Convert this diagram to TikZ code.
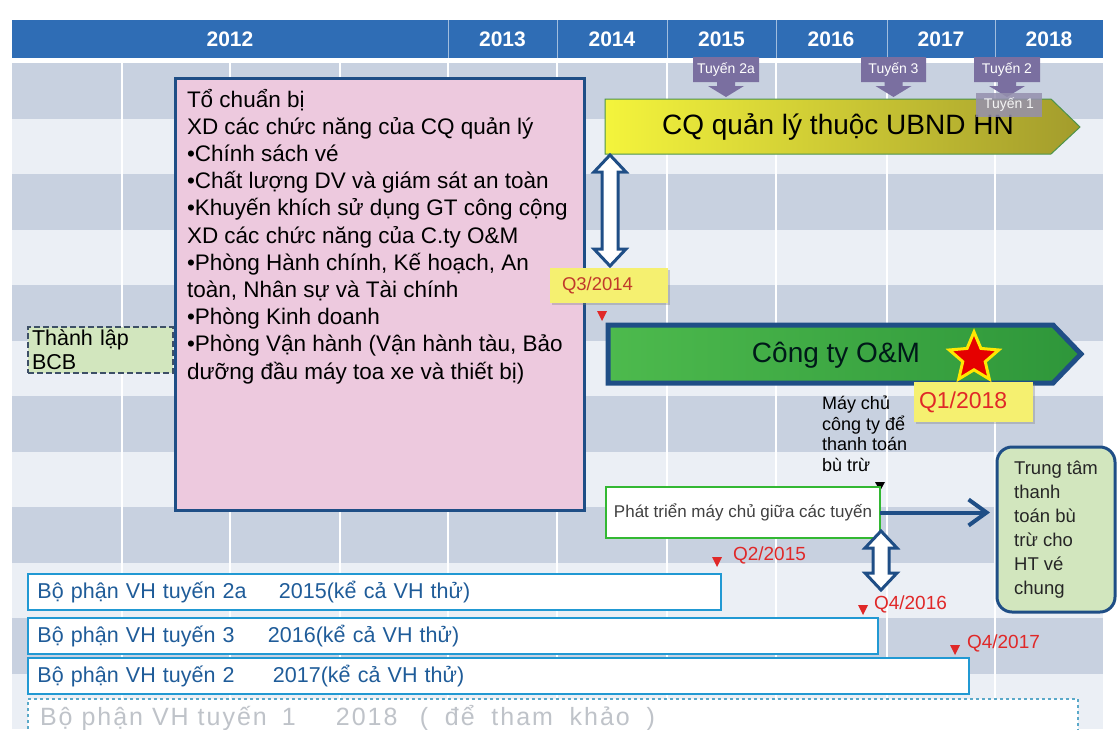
\documentclass[tikz,border=0pt]{standalone}
\usepackage{fontspec}
\setmainfont{Liberation Sans}
\usetikzlibrary{shapes.geometric,arrows.meta,shadows}
\definecolor{hdr}{HTML}{2F6DB5}
\definecolor{rowdark}{HTML}{C8D1E0}
\definecolor{rowlight}{HTML}{EBEFF5}
\definecolor{navy}{HTML}{1F4E86}
\definecolor{pinkbox}{HTML}{EDC9DE}
\definecolor{lgreen}{HTML}{D2E6BE}
\definecolor{tuy}{HTML}{7A6FA0}
\definecolor{tuylight}{HTML}{9590AE}
\definecolor{qyellow}{HTML}{F5F070}
\definecolor{qred}{HTML}{E02828}
\definecolor{qbrown}{HTML}{C0392B}
\definecolor{barblue}{HTML}{2199D3}
\definecolor{bartext}{HTML}{1F5C99}
\definecolor{yelA}{HTML}{F4F43C}
\definecolor{yelB}{HTML}{A39C2C}
\definecolor{grnA}{HTML}{4DBA4D}
\definecolor{grnB}{HTML}{2E963A}
\definecolor{dashgray}{HTML}{3D4F66}
\definecolor{dashblue}{HTML}{5AA9C9}
\definecolor{ghost}{HTML}{BFC3C9}
\tikzset{
  hdrtext/.style={text=white, font=\bfseries\fontsize{21}{24}\selectfont},
  tuytext/.style={text=white, font=\fontsize{14}{16}\selectfont},
  qlabel/.style={fill=qyellow, drop shadow={shadow xshift=2pt, shadow yshift=-2pt, opacity=0.35}, anchor=north west, align=left},
  qtext/.style={text=qred, font=\fontsize{19}{21}\selectfont, anchor=west},
  barbox/.style={draw=barblue, line width=2.5, fill=white, text=bartext, font=\fontsize{21.5}{24}\selectfont, anchor=north west, minimum height=36, inner xsep=9.5, align=left},
  dblarr/.style={draw=navy, line width=3, fill=white, line join=miter},
  redtri/.style={fill=qred},
}
\newcommand{\vdarrow}[3]{%
  \path[dblarr] ({#1-8},{#2+17}) -- ({#1-16},{#2+17}) -- (#1,#2) -- ({#1+16},{#2+17}) -- ({#1+8},{#2+17})
   -- ({#1+8},{#3-17}) -- ({#1+16},{#3-17}) -- (#1,#3) -- ({#1-16},{#3-17}) -- ({#1-8},{#3-17}) -- cycle;}
\newcommand{\redmark}[2]{\fill[redtri] ({#1-5},#2) -- ({#1+5},#2) -- (#1,{#2+10}) -- cycle;}
\newcommand{\tuyencallout}[4]{%
  \pgfmathsetmacro{\tcx}{(#2+#3)/2}%
  \fill[tuy] (#2,57) -- (#3,57) -- (#3,82) -- ({\tcx+9},82) -- ({\tcx+9},86) -- ({\tcx+18},86) -- (\tcx,97)
   -- ({\tcx-18},86) -- ({\tcx-9},86) -- ({\tcx-9},82) -- (#2,82) -- cycle;
  \node[tuytext] (#1) at (\tcx,69.5) {#4};}
\begin{document}
\begin{tikzpicture}[x=1pt,y=-1pt,every node/.style={inner sep=0pt,outer sep=0pt}]
\useasboundingbox (0,0) rectangle (1120,729);
\fill[white] (0,0) rectangle (1120,729);
% grid rows
\foreach \i in {0,2,4,6,8,10} \fill[rowdark] (12,{63+55.5*\i}) rectangle (1103,{63+55.5*(\i+1)});
\foreach \i in {1,3,5,7,9,11} \fill[rowlight] (12,{63+55.5*\i}) rectangle (1103,{63+55.5*(\i+1)});
\foreach \x in {122,230,340,448,557,667,776,887,995} \draw[white,line width=2] (\x,63) -- (\x,729);
% header
\fill[hdr] (12,20) rectangle (1103,58);
\foreach \x in {448,557,667,776,887,995} \draw[white!55!hdr,line width=1] (\x,20) -- (\x,58);
\node[hdrtext] (h2012) at (230,39) {2012};
\node[hdrtext] (h2013) at (502.5,39) {2013};
\node[hdrtext] (h2014) at (612,39) {2014};
\node[hdrtext] (h2015) at (721.5,39) {2015};
\node[hdrtext] (h2016) at (831,39) {2016};
\node[hdrtext] (h2017) at (941,39) {2017};
\node[hdrtext] (h2018) at (1049,39) {2018};
% preparation box
\node[draw=navy,line width=3,fill=pinkbox,minimum width=409,minimum height=432,anchor=north west] (prep) at (175,78) {};
\node[anchor=north west,align=left,font=\fontsize{22.5}{27.2}\selectfont] (preptext) at (187,89) {%
Tổ chuẩn bị\\
XD các chức năng của CQ quản lý\\
•Chính sách vé\\
•Chất lượng DV và giám sát an toàn\\
•Khuyến khích sử dụng GT công cộng\\
XD các chức năng của C.ty O\&M\\
•Phòng Hành chính, Kế hoạch, An\\
toàn, Nhân sự và Tài chính\\
•Phòng Kinh doanh\\
•Phòng Vận hành (Vận hành tàu, Bảo\\
dưỡng đầu máy toa xe và thiết bị)};
% BCB
\node[draw=dashgray,dash pattern=on 6pt off 3pt,line width=2,fill=lgreen,minimum width=145,minimum height=46,
  anchor=north west,inner xsep=4,text width=137,align=left,font=\fontsize{21.5}{24}\selectfont] (bcb) at (28,327) {Thành lập\\BCB};
% yellow arrow
\path[draw=green!40!black!70,line width=1,left color=yelA,right color=yelB]
  (605,99) -- (1051,99) -- (1080,127) -- (1051,154) -- (605,154) -- cycle;
\node[font=\fontsize{28}{30}\selectfont] (cq) at (838,127) {CQ quản lý thuộc UBND HN};
% tuyen callouts
\tuyencallout{t2a}{693}{759}{Tuyến 2a}
\tuyencallout{t3}{861}{926}{Tuyến 3}
\tuyencallout{t2}{974}{1040}{Tuyến 2}
\node[fill=tuylight,fill opacity=0.85,text opacity=1,text=white!92!gray,font=\fontsize{14}{16}\selectfont,
  minimum width=66,minimum height=24,anchor=north west] (t1) at (976,93) {Tuyến 1};
% double arrow 1
\vdarrow{610}{155}{266}
% Q3/2014
\node[qlabel,text=qbrown,font=\fontsize{18.5}{21}\selectfont,text width=94,inner xsep=12,minimum height=35] (q3) at (550,268) {Q3/2014};
\redmark{602}{311}
% green arrow
\path[draw=navy,line width=5,line join=miter,left color=grnA,right color=grnB]
  (608,325) -- (1053,325) -- (1081,354) -- (1053,383) -- (608,383) -- cycle;
\node[text=black!80!teal,font=\fontsize{28}{30}\selectfont] (om) at (836,355) {Công ty O\&M};
\node[star,star points=5,star point ratio=2.2,fill=red!90!black,draw=yellow!90!orange,line width=3,minimum size=52] (star) at (974,358) {};
% Q1/2018
\node[qlabel,text=qred,font=\fontsize{23}{26}\selectfont,text width=109,inner xsep=5,minimum height=40] (q1) at (914,382) {Q1/2018};
% server text
\node[anchor=north west,align=left,font=\fontsize{18}{20.5}\selectfont] (maychu) at (822,396) {Máy chủ\\công ty để\\thanh toán\\bù trừ};
\fill (875,482) -- (885,482) -- (880,491) -- cycle;
% development box
\node[draw=green!65!black!80,line width=2,fill=white,minimum width=274,minimum height=51,anchor=north west,
  text=black!75,font=\fontsize{17}{19}\selectfont] (phat) at (606,487) {Phát triển máy chủ giữa các tuyến};
% clearing centre
\node[draw=navy,line width=3,fill=lgreen,rounded corners=15,minimum width=118,minimum height=165,anchor=north west,
  align=left,text=black!85,font=\fontsize{18.5}{24}\selectfont] (trung) at (997,447) {Trung tâm\\thanh\\toán bù\\trừ cho\\HT vé\\chung};
\draw[navy,line width=4,-{Straight Barb[length=18pt,width=26pt]},shorten >=7pt] (phat.east) -- (phat.east -| trung.west);
% double arrow 2
\vdarrow{881}{531}{590}
% quarter marks
\redmark{717}{557}
\node[qtext] (q2) at (733,555) {Q2/2015};
\redmark{863}{605}
\node[qtext] (q4a) at (874,604) {Q4/2016};
\redmark{955}{645}
\node[qtext] (q4b) at (967,643) {Q4/2017};
% bars
\node[barbox,text width=674] (bar1) at (28,574) {\makebox[241.5pt][l]{Bộ phận VH tuyến 2a}2015(kể cả VH thử)};
\node[barbox,text width=831] (bar2) at (28,618) {\makebox[230.5pt][l]{Bộ phận VH tuyến 3}2016(kể cả VH thử)};
\node[barbox,text width=922] (bar3) at (28,658) {\makebox[235.5pt][l]{Bộ phận VH tuyến 2}2017(kể cả VH thử)};
% reference bar
\node[draw=dashblue,dashed,line width=1.5,fill=white,minimum width=1050,minimum height=45,anchor=north west] (bar4) at (28,699) {};
\node[anchor=west,text=ghost,font=\fontsize{25}{28}\selectfont\addfontfeatures{LetterSpace=8}] (bar4text) at (40,718)
  {\makebox[242pt][l]{Bộ phận VH tuyến}\makebox[54pt][l]{1}\makebox[84pt][l]{2018}\makebox[235pt][s]{( để tham khảo )}};
\end{tikzpicture}
\end{document}
